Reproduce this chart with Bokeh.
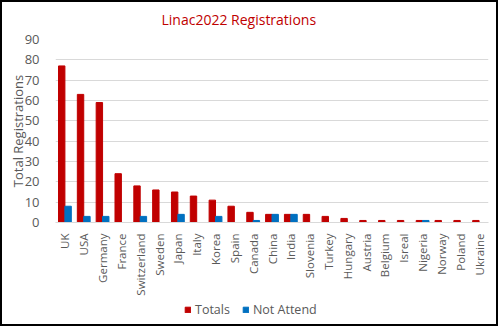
import math
from bokeh.plotting import figure
from bokeh.layouts import column
from bokeh.models import ColumnDataSource, FactorRange, Range1d, Legend, LegendItem, SingleIntervalTicker, Title
from bokeh.transform import dodge
from bokeh.embed import file_html
from bokeh.resources import INLINE

countries = ["UK", "USA", "Germany", "France", "Switzerland", "Sweden", "Japan", "Italy",
             "Korea", "Spain", "Canada", "China", "India", "Slovenia", "Turkey", "Hungary",
             "Austria", "Belgium", "Isreal", "Nigeria", "Norway", "Poland", "Ukraine"]
totals = [77, 63, 59, 24, 18, 16, 15, 13, 11, 8, 5, 4, 4, 4, 3, 2, 1, 1, 1, 1, 1, 1, 1]
not_attend = [8, 3, 3, 0, 3, 0, 4, 0, 3, 0, 1, 4, 4, 0, 0, 0, 0, 0, 0, 1, 0, 0, 0]
series_names = ["Totals", "Not Attend"]

RED = "#C00000"
BLUE = "#0070C0"
FONT = "Open Sans"

src = ColumnDataSource(dict(country=countries, totals=totals, na=not_attend))

p = figure(x_range=FactorRange(*countries, range_padding=0), y_range=Range1d(0, 90),
           width=494, height=298,
           min_border_left=53, min_border_right=8, min_border_top=37, min_border_bottom=78,
           output_backend="svg", toolbar_location=None)

p.vbar(x=dodge("country", -0.17, range=p.x_range), top="totals", width=0.34,
       source=src, color=RED)
p.vbar(x=dodge("country", 0.17, range=p.x_range), top="na", width=0.34,
       source=src, color=BLUE)

p.title.text = "Linac2022 Registrations"
p.title.text_color = RED
p.title.text_font = FONT
p.title.text_font_size = "14px"
p.title.text_font_style = "normal"
p.title.align = "left"
p.title.offset = 106
p.title.standoff = 8
# small spacer between the title and the plot area
p.add_layout(Title(text=" ", text_font_size="2px", standoff=3), "above")

p.outline_line_color = None
p.xgrid.grid_line_color = None
p.ygrid.grid_line_color = "#D9D9D9"
p.ygrid.ticker = SingleIntervalTicker(interval=10)

p.yaxis.ticker = SingleIntervalTicker(interval=10)
p.yaxis.axis_line_color = None
p.yaxis.major_tick_line_color = None
p.yaxis.minor_tick_line_color = None
p.yaxis.major_label_text_color = "#595959"
p.yaxis.major_label_text_font = FONT
p.yaxis.major_label_text_font_size = "13px"
p.yaxis.major_label_standoff = 10
p.yaxis.axis_label = "Total Registrations"
p.yaxis.axis_label_text_font = FONT
p.yaxis.axis_label_text_font_style = "normal"
p.yaxis.axis_label_text_font_size = "13px"
p.yaxis.axis_label_text_color = "#595959"
p.yaxis.axis_label_standoff = -5

p.xaxis.axis_line_color = "#D9D9D9"
p.xaxis.major_tick_line_color = None
p.xaxis.minor_tick_line_color = None
p.xaxis.major_label_orientation = math.pi / 2
p.xaxis.major_label_standoff = 5
p.xaxis.major_label_text_color = "#595959"
p.xaxis.major_label_text_font = FONT
p.xaxis.major_label_text_font_size = "11.5px"

# legend strip
lg = figure(width=494, height=24, x_range=Range1d(0, 1), y_range=Range1d(0, 1),
            min_border=0, output_backend="svg", toolbar_location=None)
lg.axis.visible = False
lg.grid.visible = False
lg.outline_line_color = None
g1 = lg.vbar(x=[-5], top=[-5], width=0.1, color=RED)
g2 = lg.vbar(x=[-5], top=[-5], width=0.1, color=BLUE)
legend = Legend(items=[LegendItem(label=series_names[0], renderers=[g1]),
                       LegendItem(label=series_names[1], renderers=[g2])],
                orientation="horizontal", location=(129, 6),
                label_text_font=FONT, label_text_font_size="12.5px", label_text_color="#595959",
                glyph_width=7, glyph_height=7, border_line_color=None, background_fill_alpha=0,
                spacing=12, label_standoff=4, padding=0, margin=0)
lg.add_layout(legend, "center")

layout = column(p, lg, spacing=0)
layout.styles = {"border": "2px solid black"}

open("out.html", "w").write(file_html(layout, INLINE))
